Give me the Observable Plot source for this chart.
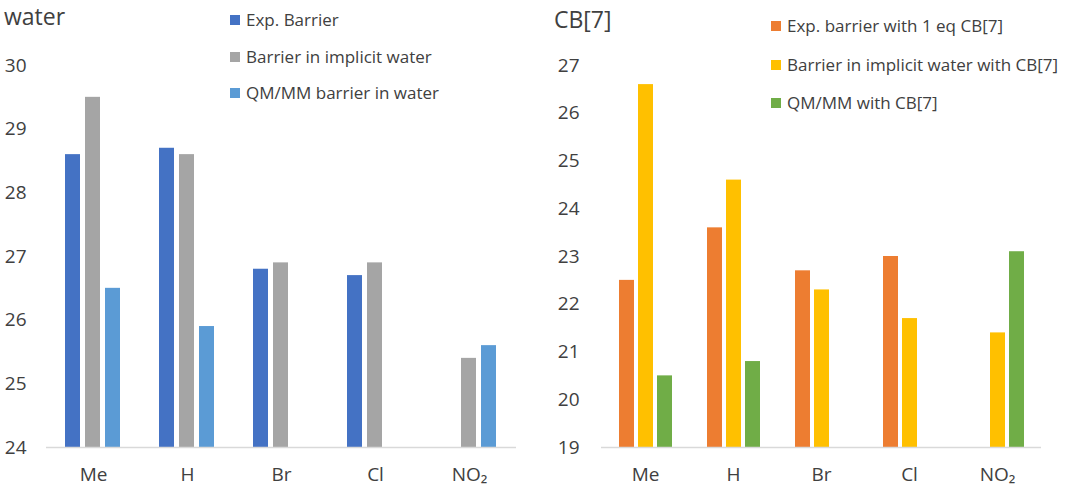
<!DOCTYPE html>
<html>
<head>
<meta charset="utf-8">
<script src="https://cdn.jsdelivr.net/npm/d3@7"></script>
<script src="https://cdn.jsdelivr.net/npm/@observablehq/plot@0.6"></script>
<style>
  html, body { margin: 0; padding: 0; background: #fff; }
  body { width: 1084px; height: 487px; position: relative; overflow: hidden; font-family: "Open Sans", sans-serif; color: #404040; }
  .panel { position: absolute; top: 0; }
  .title { position: absolute; font-size: 23px; line-height: normal; white-space: nowrap; }
  .legend { position: absolute; font-size: 17px; line-height: 20px; }
  .legend .row { display: flex; align-items: center; white-space: nowrap; }
  .legend .sw { width: 10px; height: 10px; margin-right: 6px; flex: none; }
</style>
</head>
<body>
<div id="left" class="panel" style="left:0px"></div>
<div id="right" class="panel" style="left:540px"></div>
<div class="title" style="left:4px; top:0px">water</div>
<div class="title" style="left:554px; top:3px">CB[7]</div>
<div id="legL" class="legend" style="left:230px; top:10px"></div>
<div id="legR" class="legend" style="left:771px; top:16px"></div>
<script>
const categories = ["Me", "H", "Br", "Cl", "NO₂"];

const waterSeries = ["Exp. Barrier", "Barrier in implicit water", "QM/MM barrier in water"];
const waterColors = ["#4472C4", "#A5A5A5", "#5B9BD5"];
const waterExp = [28.6, 28.7, 26.8, 26.7, null];
const waterImplicit = [29.5, 28.6, 26.9, 26.9, 25.4];
const waterQMMM = [26.5, 25.9, null, null, 25.6];
const waterTicks = [24, 25, 26, 27, 28, 29, 30];

const cbSeries = ["Exp. barrier with 1 eq CB[7]", "Barrier in implicit water with CB[7]", "QM/MM with CB[7]"];
const cbColors = ["#ED7D31", "#FFC000", "#70AD47"];
const cbExp = [22.5, 23.6, 22.7, 23.0, null];
const cbImplicit = [26.6, 24.6, 22.3, 21.7, 21.4];
const cbQMMM = [20.5, 20.8, null, null, 23.1];
const cbTicks = [19, 20, 21, 22, 23, 24, 25, 26, 27];

function rows(series, arrays) {
  const out = [];
  categories.forEach((c, i) => {
    series.forEach((s, j) => {
      const v = arrays[j][i];
      if (v != null) out.push({cat: c, series: s, v});
    });
  });
  return out;
}

function panel(series, colors, arrays, ticks, opts) {
  const data = rows(series, arrays);
  const base = ticks[0];
  return Plot.plot({
    width: opts.width,
    height: 487,
    marginLeft: opts.marginLeft,
    marginRight: opts.marginRight,
    marginTop: 65,
    marginBottom: 40,
    style: {fontSize: "19px", fontFamily: "Open Sans, sans-serif", color: "#404040", background: "transparent"},
    fx: {domain: categories, padding: 0, label: null, axis: "bottom", tickSize: 0, tickPadding: 20},
    x: {domain: series, paddingInner: 0.23, paddingOuter: 0.89, axis: null},
    y: {domain: [ticks[0], ticks[ticks.length - 1]], ticks: ticks, tickFormat: d3.format("d"), tickSize: 0, tickPadding: opts.tickPadding, label: null},
    color: {domain: series, range: colors},
    marks: [
      Plot.barY(data, {fx: "cat", x: "series", y1: () => base, y2: "v", fill: "series"}),
      Plot.ruleY([base], {stroke: "#D9D9D9", strokeWidth: 1.5})
    ]
  });
}

document.getElementById("left").append(
  panel(waterSeries, waterColors, [waterExp, waterImplicit, waterQMMM], waterTicks,
        {width: 540, marginLeft: 44, marginRight: 22, tickPadding: 20})
);
document.getElementById("right").append(
  panel(cbSeries, cbColors, [cbExp, cbImplicit, cbQMMM], cbTicks,
        {width: 544, marginLeft: 60, marginRight: 42, tickPadding: 22})
);

function legend(id, series, colors, gap) {
  const el = document.getElementById(id);
  series.forEach((s, i) => {
    const r = document.createElement("div");
    r.className = "row";
    if (i > 0) r.style.marginTop = gap + "px";
    const sw = document.createElement("span");
    sw.className = "sw";
    sw.style.background = colors[i];
    const t = document.createElement("span");
    t.textContent = s;
    r.append(sw, t);
    el.append(r);
  });
}
legend("legL", waterSeries, waterColors, 16.5);
legend("legR", cbSeries, cbColors, 18.5);
</script>
</body>
</html>
